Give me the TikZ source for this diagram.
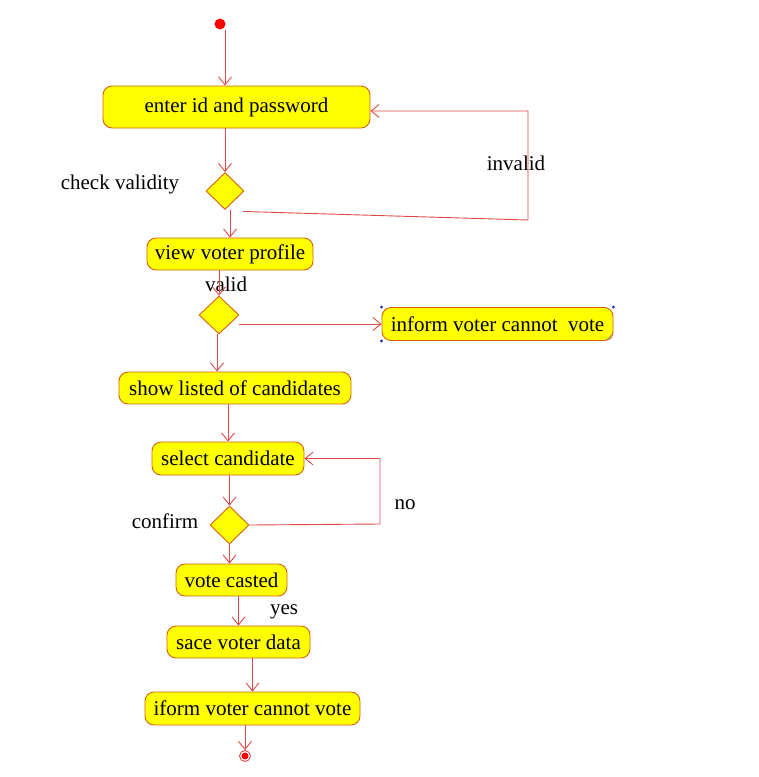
\documentclass[tikz,border=0pt]{standalone}
\usepackage{fontspec}
\setmainfont{Liberation Serif}
\usetikzlibrary{shapes.geometric,arrows.meta}

\begin{document}
\begin{tikzpicture}[x=1pt,y=-1pt,
    font=\fontsize{21}{24}\selectfont,
    activity/.style={draw=boxedge,fill=actyellow,rounded corners=9pt,inner sep=0pt,line width=0.9pt},
    decision/.style={diamond,draw=boxedge,fill=actyellow,inner sep=0pt,line width=0.9pt},
    flow/.style={draw=flowred,line width=0.9pt,-{Straight Barb[length=8pt,width=13pt]}},
    guard/.style={inner sep=0pt}]
            % Define colors
            \definecolor{actyellow}{RGB}{255,255,0}
            \definecolor{boxedge}{RGB}{214,96,20}
            \definecolor{flowred}{RGB}{222,72,72}
            \definecolor{handle}{RGB}{40,40,200}

            \useasboundingbox (0,0) rectangle (759,777);

            % Draw the initial and final states
            \node[circle,fill=red,inner sep=0pt,minimum size=11pt] (start) at (220,24) {};
            \node[circle,draw=flowred,fill=white,line width=0.9pt,inner sep=0pt,minimum size=11pt] (end) at (245,756) {};
            \fill[red] (end) circle (3.5);

            % Draw the activities
            \node[activity,minimum width=267,minimum height=42] (enter) at (236.5,107) {enter id and password};
            \node[activity,minimum width=166,minimum height=32] (view) at (230,254) {view voter profile};
            \node[activity,minimum width=231,minimum height=33] (inform) at (497.5,324) {inform voter cannot~~vote};
            \node[activity,minimum width=232,minimum height=32] (show) at (235,388) {show listed of candidates};
            \node[activity,minimum width=152,minimum height=33] (select) at (228,458.5) {select candidate};
            \node[activity,minimum width=111,minimum height=32] (vote) at (231.5,580) {vote casted};
            \node[activity,minimum width=143,minimum height=32] (sace) at (238.5,642) {sace voter data};
            \node[activity,minimum width=215,minimum height=33] (iform) at (252.5,708.5) {iform voter cannot vote};

            % Draw the selection handles of the inform box
            \fill[handle] (inform.north west) circle (1.6) (inform.south west) circle (1.6) (inform.north east) circle (1.6);
            \draw[gray] ([shift={(-7pt,1pt)}]inform.south east) -- ([shift={(-1pt,7pt)}]inform.south east)
                        ([shift={(-4pt,1pt)}]inform.south east) -- ([shift={(-1pt,4pt)}]inform.south east);

            % Draw the decisions
            \node[decision,minimum width=38,minimum height=37] (check) at (225,191) {};
            \node[decision,minimum width=40,minimum height=38] (eligible) at (219,315) {};
            \node[decision,minimum width=39,minimum height=38] (confirm) at (229.5,525) {};

            % Draw the guards and decision labels
            \node[guard] (checklbl) at (120,184) {check validity};
            \node[guard] (invalidlbl) at (516,163) {invalid};
            \node[guard] (validlbl) at (226,284) {valid};
            \node[guard] (nolbl) at (405,505) {no};
            \node[guard] (confirmlbl) at (165,521) {confirm};
            \node[guard] (yeslbl) at (284,612) {yes};

            % Draw the flows
            \draw[flow] ([xshift=5pt]start.south) -- ([xshift=-11.5pt]enter.north);
            \draw[flow] (enter.south -| check) -- (check.north);
            \draw[flow] (check.south -| view) -- (view.north);
            \draw[flow] (view.south -| eligible) -- (eligible.north);
            \draw[flow] (eligible.east |- inform.west) -- (inform.west);
            \draw[flow] ([xshift=-2pt]eligible.south) -- ([xshift=-2pt]eligible.south |- show.north);
            \draw[flow] (show.south -| select) -- (select.north);
            \draw[flow] (select.south -| confirm) -- (confirm.north);
            \draw[flow] (confirm.south) -- (confirm.south |- vote.north);
            \draw[flow] (vote.south -| sace) -- (sace.north);
            \draw[flow] (sace.south -| iform) -- (iform.north);
            \draw[flow] (iform.south -| end) -- (end.north);

            % Draw the loops back
            \coordinate (invalidturn) at (528,220);
            \draw[flow] ([xshift=18pt,yshift=-1.5pt]check.south) -- (invalidturn) |- ([yshift=-4pt]enter.east);
            \coordinate (noturn) at (380,524);
            \draw[flow] (confirm.east) -- (noturn) |- (select.east);
        \end{tikzpicture}
\end{document}
